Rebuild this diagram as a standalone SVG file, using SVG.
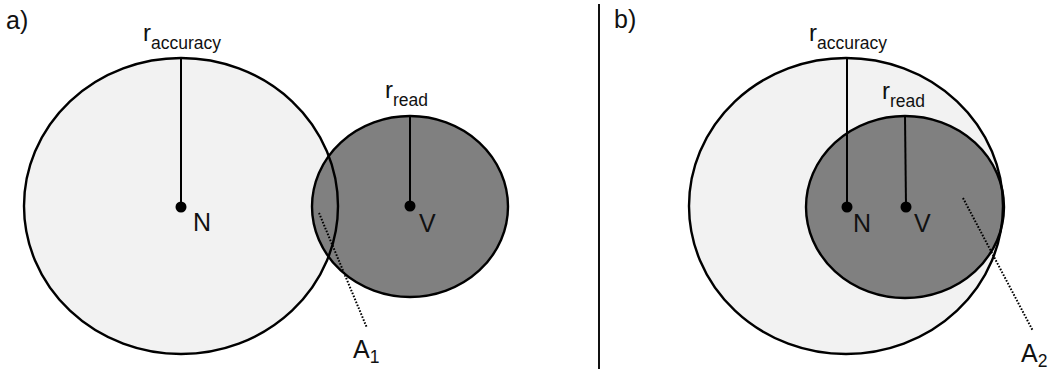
<svg xmlns="http://www.w3.org/2000/svg" width="1052" height="372" viewBox="0 0 1052 372">
<defs>
<style>
.t{font-family:"Liberation Sans",Arial,sans-serif;fill:#111}
.big{font-size:25px}
.lab{font-size:24px}
.sub{font-size:17.5px}
.light{fill:#f2f2f2}
.dark{fill:#808080}
.edge{fill:none;stroke:#000;stroke-width:2.4}
.rad{stroke:#000;stroke-width:2}
.dot{stroke:#000;stroke-width:2;stroke-dasharray:1.6 1.6;fill:none}
</style>
</defs>
<rect width="1052" height="372" fill="#fff"/>
<line x1="599" y1="4" x2="599" y2="369" stroke="#111" stroke-width="2"/>
<text class="t big" x="6" y="29">a)</text>
<text class="t big" x="614" y="28">b)</text>

<g id="fills">
<ellipse class="light" cx="181" cy="206" rx="157" ry="148"/>
<ellipse class="dark" cx="410" cy="206.5" rx="98" ry="90.5"/>
<ellipse class="light" cx="846" cy="206" rx="157" ry="148"/>
<ellipse class="dark" cx="905" cy="207" rx="99" ry="91"/>
</g>

<g id="nodeN_a">
<ellipse class="edge" cx="181" cy="206" rx="157" ry="148"/>
<circle cx="181" cy="207" r="5.5" fill="#000"/>
<text class="t big" x="193" y="231">N</text>
<text class="t lab" x="143" y="41">r<tspan class="sub" dy="8">accuracy</tspan></text>
</g>
<g id="nodeV_a">
<ellipse class="edge" cx="410" cy="206.5" rx="98" ry="90.5"/>
<circle cx="410" cy="206" r="5.5" fill="#000"/>
<text class="t big" x="419" y="232">V</text>
<text class="t lab" x="385" y="98">r<tspan class="sub" dy="8">read</tspan></text>
</g>
<g id="labelA1">
<text class="t big" x="353" y="358">A<tspan class="sub" dy="5">1</tspan></text>
</g>

<g id="nodeN_b">
<ellipse class="edge" cx="846" cy="206" rx="157" ry="148"/>
<circle cx="847" cy="207" r="5.5" fill="#000"/>
<text class="t big" x="853" y="232">N</text>
<text class="t lab" x="809" y="41">r<tspan class="sub" dy="8">accuracy</tspan></text>
</g>
<g id="nodeV_b">
<ellipse class="edge" cx="905" cy="207" rx="99" ry="91"/>
<circle cx="906" cy="207" r="5.5" fill="#000"/>
<text class="t big" x="914" y="232">V</text>
<text class="t lab" x="882" y="99">r<tspan class="sub" dy="8">read</tspan></text>
</g>
<g id="labelA2">
<text class="t big" x="1021" y="362">A<tspan class="sub" dy="5">2</tspan></text>
</g>

<g id="connectors">
<line class="rad" x1="181" y1="58" x2="181" y2="207"/>
<line class="rad" x1="410" y1="116" x2="410" y2="206"/>
<line class="rad" x1="847" y1="59" x2="847" y2="207"/>
<line class="rad" x1="905" y1="116" x2="906" y2="207"/>
<line class="dot" x1="319" y1="213" x2="367" y2="328"/>
<line class="dot" x1="963" y1="198" x2="1033" y2="331"/>
</g>
</svg>
